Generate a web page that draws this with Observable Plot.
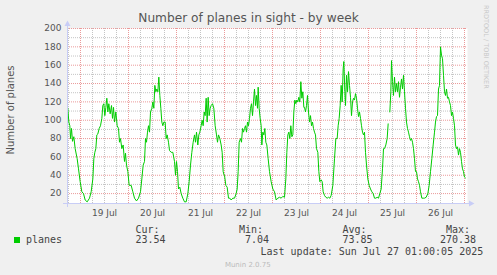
<!DOCTYPE html>
<html><head><meta charset="utf-8">
<script src="https://cdn.jsdelivr.net/npm/d3@7"></script>
<script src="https://cdn.jsdelivr.net/npm/@observablehq/plot@0.6"></script>
<style>
body{margin:0;background:#f0f0f0;}
#wrap{position:relative;width:497px;height:275px;overflow:hidden;}
</style></head><body><div id="wrap"></div>
<script>
// hours since 2025-07-19 00:00 UTC
const hours = [
-6.33,-5.83,-5.33,-5,-4.5,-4,-3.33,-2.67,-1.67,-1,-0.17,0.67,1.5,2.33,3.33,4.5,5.33,6.17,6.67,7.17,7.67,8.17,8.67,9.33,10,10.67,11.17,11.67,12.17,12.67,13.17,13.67,14.17,14.83,15.5,16,16.5,17,17.67,18.33,19,19.5,20,20.67,21.33,22,22.5,23,23.67,24.33,25.33,26.17,27,28,29,30,30.67,31.33,
32,32.5,33,33.5,34,34.5,35,35.67,36.17,36.67,37.17,37.67,38.17,38.67,39.17,39.67,40.17,40.67,41.17,41.67,42.33,42.83,43.33,44,44.5,45.33,46.17,47,47.5,48,48.5,49,49.67,50.33,51.17,52,52.83,53.67,54.33,55,55.67,56.33,57,57.5,58,58.67,59.17,59.67,60.33,60.83,61.33,61.83,62.33,62.83,63.33,63.83,64.33,64.83,65.33,66,66.67,67.33,68,68.5,69,69.67,70.33,70.83,71.33,71.83,
72,72.67,73.33,74,74.67,75.33,76.17,77,77.83,78.33,78.83,79.33,80,80.5,81,81.5,82,82.5,83,83.5,84,84.5,85,85.5,86,86.5,87,87.5,88,88.5,88.83,89.33,89.83,90.33,90.67,91.17,91.67,92.17,92.67,93.17,93.83,94.5,95.33,96.17,97,97.83,98.67,99.5,100.33,101.17,102,102.67,103.17,103.67,104.17,104.67,105.17,105.67,106.17,106.67,107.17,107.67,108.17,108.67,109.17,109.67,110.17,110.67,111.17,111.67,
112,112.5,113,113.5,114,114.5,115,115.5,116,116.5,117,117.5,118,118.67,119.17,119.67,120.33,120.83,121.33,122,122.67,123.33,124,124.67,125.33,126.17,127,127.67,128.33,128.83,129.33,129.83,130.33,130.83,131.33,131.67,132.17,132.5,133,133.5,134,134.5,135,135.5,136,136.5,137,137.5,138,138.5,139,139.5,140,140.5,141,141.5,142,142.5,143,143.67,144.33,145,145.67,146.33,147,147.67,148.33,149,149.67,150.33,151,151.5,
152,152.67,153.33,153.83,154.25,154.67,155.17,155.5,156,156.5,157,157.5,158,158.5,159,159.5,160,160.5,161,161.5,162,162.5,163,163.5,164,164.5,165,165.5,166,166.5,167,167.5,168,168.5,169,169.5,170,170.67,171.33,172,172.83,173.67,174.33,175,175.67,176.33,177,177.5,178,178.5,179,179.5,180,180.5,181,181.5,182,182.5,183,183.5,184,184.5,185,185.5,186,186.5,187,187.5,188,188.5,189,189.5,190,190.5,191,191.5,192,192.5
];
const planes = [
113,98,94,80,91,77,82,69,58,47,33,22,20,13,11,15,22,36,58,65,69,84,85,91,94,102,116,118,105,114,124,109,118,107,116,102,114,98,109,94,91,76,80,69,73,55,64,51,44,29,29,22,15,12,15,22,36,51,
55,80,76,87,94,87,109,113,120,113,138,131,134,131,147,127,113,98,94,98,98,80,84,76,67,65,65,55,40,55,44,25,27,20,15,11,11,20,33,51,65,76,84,76,87,73,84,87,94,100,94,109,105,124,98,125,105,113,116,118,113,94,84,76,84,80,73,65,44,40,
40,29,27,15,15,13,15,15,20,25,44,76,80,76,91,87,91,94,87,98,94,102,113,118,105,120,134,116,127,113,136,113,102,94,73,87,84,91,76,73,58,44,33,25,22,13,15,16,15,17,16,36,65,84,87,80,94,82,84,109,122,118,122,120,125,120,142,124,131,114,
114,109,116,127,109,98,105,94,98,91,87,84,69,65,44,33,35,33,22,18,16,15,16,15,18,29,58,80,80,94,102,116,138,120,156,164,131,116,149,131,153,138,125,105,120,124,122,129,124,113,104,109,102,94,87,84,87,65,51,36,29,25,22,20,15,15,16,15,20,25,47,69,
69,73,80,96,null,109,131,165,142,127,147,131,140,131,142,125,136,145,134,149,131,113,98,91,87,82,78,80,76,69,58,44,44,36,33,29,22,15,15,15,16,20,29,44,58,73,87,98,104,105,134,138,180,171,167,149,131,127,134,124,125,120,116,105,109,102,94,73,69,71,62,69,65,55,47,44,38,37
];
const yTicks = [20,40,60,80,100,120,140,160,180,200];
const yMinor = [30,50,70,90,110,130,150,170,190];
const dayLabels = ["19 Jul","20 Jul","21 Jul","22 Jul","23 Jul","24 Jul","25 Jul","26 Jul"];
const title = "Number of planes in sight - by week";
const yLabel = "Number of planes";
const legendName = "planes";
const statNames = ["Cur:","Min:","Avg:","Max:"];
const statValues = ["23.54","7.04","73.85","270.38"];
const lastUpdate = "Last update: Sun Jul 27 01:00:05 2025";
const footer = "Munin 2.0.75";
const sideText = "RRDTOOL / TOBI OETIKER";

const T0 = Date.UTC(2025, 6, 19);
const toDate = h => new Date(T0 + h * 3600e3);
const data = hours.map((h, i) => ({t: toDate(h), v: planes[i]}));
const start = toDate(-6.5), end = toDate(193.5);
const majorX = d3.utcDay.range(start, end);
const minorX = d3.utcHour.every(6).range(start, end);
const noons = majorX.map(d => d3.utcHour.offset(d, 12));
const fmtDay = new Map(noons.map((d, i) => [+d, dayLabels[i]]));
const yMin = 9.2, yMax = 200;

const chart = Plot.plot({
  width: 497, height: 275,
  marginLeft: 67, marginRight: 30, marginTop: 28, marginBottom: 72,
  style: {background: "transparent", fontFamily: "DejaVu Sans", fontSize: "9px", color: "#555"},
  x: {type: "utc", domain: [start, end]},
  y: {domain: [yMin, yMax]},
  marks: [
    Plot.frame({fill: "white", stroke: null}),
    Plot.ruleX(minorX, {stroke: "#c4c4c4", strokeDasharray: "1,1"}),
    Plot.ruleY(yMinor, {stroke: "#c4c4c4", strokeDasharray: "1,1"}),
    Plot.ruleX(majorX, {stroke: "#eb9a9a", strokeDasharray: "1,1"}),
    Plot.ruleY(yTicks, {stroke: "#eb9a9a", strokeDasharray: "1,1"}),
    Plot.line(data, {x: "t", y: "v", stroke: "#00cc00", strokeWidth: 1}),
    Plot.axisY({ticks: yTicks, tickSize: 0, tickPadding: 6, label: null}),
    Plot.axisX({ticks: noons, tickSize: 0, tickPadding: 6, label: null, tickFormat: d => fmtDay.get(+d)})
  ]
});
document.getElementById("wrap").appendChild(chart);

const svg = d3.select(chart);
const sx = chart.scale("x"), sy = chart.scale("y");
const xL = sx.apply(start), xR = sx.apply(end);
const yB = sy.apply(yMin), yT = sy.apply(yMax);
const axisCol = "#c8cdf6";
const g = svg.append("g");
g.append("line").attr("x1", xL - 4).attr("x2", xR + 4).attr("y1", yB + 0.5).attr("y2", yB + 0.5).attr("stroke", axisCol);
g.append("line").attr("x1", xL + 0.5).attr("x2", xL + 0.5).attr("y1", yB + 4).attr("y2", yT - 4).attr("stroke", axisCol);
g.append("path").attr("d", `M${xR + 2},${yB - 2.5}L${xR + 2},${yB + 3.5}L${xR + 7.5},${yB + 0.5}Z`).attr("fill", axisCol);
g.append("path").attr("d", `M${xL - 2.5},${yT - 2}L${xL + 3.5},${yT - 2}L${xL + 0.5},${yT - 7.5}Z`).attr("fill", axisCol);

const txt = svg.append("g").attr("fill", "#555").attr("text-anchor", "start");
txt.append("text").attr("x", 248.5).attr("y", 22).attr("text-anchor", "middle").attr("font-size", 12.2).text(title);
txt.append("text").attr("transform", "translate(14,110) rotate(-90)").attr("text-anchor", "middle").attr("font-size", 10).text(yLabel);
txt.append("text").attr("transform", "translate(484,5) rotate(90)").attr("text-anchor", "start").attr("font-size", 6.5).attr("fill", "#c8c8c8").text(sideText);

const mono = svg.append("g").attr("fill", "#444").attr("font-family", "DejaVu Sans Mono").attr("font-size", 10).attr("text-anchor", "start");
mono.append("rect").attr("x", 14).attr("y", 237).attr("width", 6).attr("height", 6).attr("fill", "#00cc00");
mono.append("text").attr("x", 26).attr("y", 243).text(legendName);
const nameX = [135.5, 239, 342.5, 446];
const valX = [135.5, 245, 342.5, 440];
statNames.forEach((s, i) => mono.append("text").attr("x", nameX[i]).attr("y", 232.5).text(s));
statValues.forEach((s, i) => mono.append("text").attr("x", valX[i]).attr("y", 243).text(s));
mono.append("text").attr("x", 260.5).attr("y", 254.5).text(lastUpdate);
svg.append("text").attr("x", 247.8).attr("y", 266.5).attr("text-anchor", "middle").attr("font-size", 7).attr("fill", "#bbbbbb").text(footer);
</script></body></html>
